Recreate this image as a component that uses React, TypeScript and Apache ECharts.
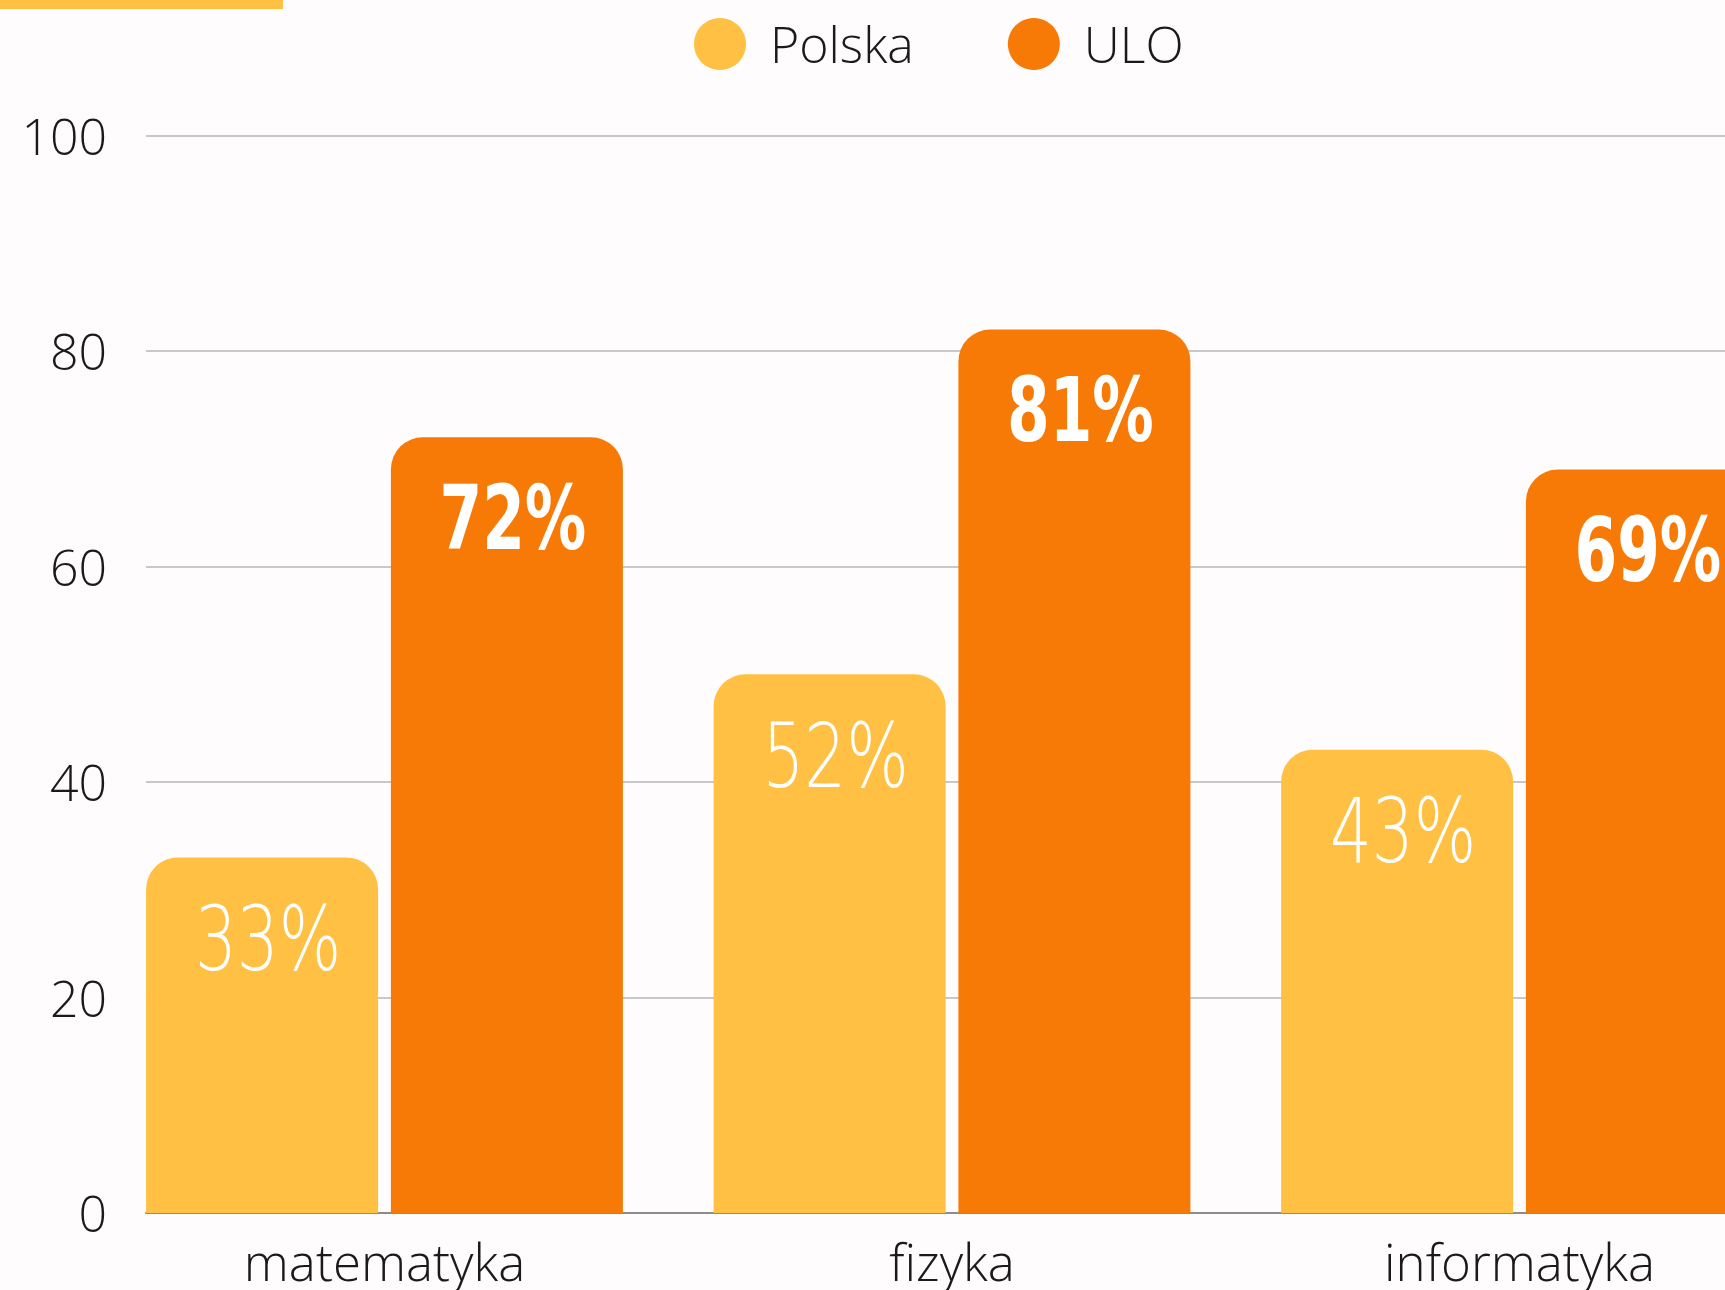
import React, { useEffect, useRef } from "react";
import * as echarts from "echarts";

const categories = ["matematyka", "fizyka", "informatyka"];
const seriesNames = ["Polska", "ULO"];
const polskaValues = [33, 50, 43];
const uloValues = [72, 82, 69];
const polskaLabels = ["33%", "52%", "43%"];
const uloLabels = ["72%", "81%", "69%"];
const yTicks = [0, 20, 40, 60, 80, 100];

const BG = "#fefcfc";
const YELLOW = "#ffc043";
const ORANGE = "#f77a06";

const PAGE_W = 1725;
const PAGE_H = 1290;
const CHART_W = 1810;
const BAR_W = 232;
const BAR_GAP_PX = 12.8;

export default function App() {
  const ref = useRef<HTMLDivElement>(null);
  useEffect(() => {
    document.body.style.margin = "0";
    document.body.style.background = BG;
    document.body.style.overflow = "hidden";
    document.documentElement.style.overflow = "hidden";
    const chart = echarts.init(ref.current!, null, { renderer: "svg" });
    const top = 135.5;
    const height = 1213 - 135.5;
    const bandW = 567.5;
    const gridLeft = 384.5 - bandW / 2;
    const barOffset = (BAR_W + BAR_GAP_PX) / 2;

    const makeLabelSeries = (
      name: string,
      values: number[],
      labels: string[],
      side: number,
      weight: number,
      family: string,
      scale: number
    ) => ({
      name,
      type: "custom",
      xAxisIndex: 1,
      yAxisIndex: 1,
      z: 5,
      silent: true,
      data: values.map((v, i) => [i, v]),
      renderItem: (params: any, api: any) => {
        const pt = api.coord([api.value(0), api.value(1)]);
        return {
          type: "text",
          x: pt[0] + side * barOffset + 6,
          y: pt[1] + 81,
          scaleX: scale,
          style: {
            text: labels[params.dataIndex],
            fill: "#ffffff",
            fontSize: 89,
            fontFamily: family,
            fontWeight: weight,
            align: "center",
            verticalAlign: "middle",
          },
        };
      },
    });

    const option: any = {
      animation: false,
      backgroundColor: BG,
      graphic: [
        { type: "rect", left: 0, top: 0, shape: { width: 283, height: 9 }, style: { fill: YELLOW } },
      ],
      legend: {
        left: 689,
        top: 13,
        icon: "circle",
        itemWidth: 52,
        itemHeight: 52,
        itemGap: 94,
        data: seriesNames,
        textStyle: {
          fontFamily: "Open Sans",
          fontWeight: 300,
          fontSize: 50,
          color: "#1a1a1a",
          padding: [0, 0, 0, 19],
        },
      },
      grid: [
        { left: 146, right: CHART_W - PAGE_W, top, height, containLabel: false },
        { left: gridLeft, right: CHART_W - gridLeft - bandW * 3, top, height, containLabel: false },
      ],
      xAxis: [
        {
          gridIndex: 0,
          type: "value",
          min: 0,
          max: 1,
          axisLine: { show: true, onZero: false, lineStyle: { color: "#8c8c8c", width: 2 } },
          axisTick: { show: false },
          axisLabel: { show: false },
          splitLine: { show: false },
        },
        {
          gridIndex: 1,
          type: "category",
          data: categories,
          axisLine: { show: false },
          axisTick: { show: false },
          splitLine: { show: false },
          axisLabel: {
            margin: 22,
            fontFamily: "Open Sans",
            fontWeight: 300,
            fontSize: 51,
            color: "#1a1a1a",
          },
        },
      ],
      yAxis: [
        {
          gridIndex: 0,
          type: "value",
          min: yTicks[0],
          max: yTicks[yTicks.length - 1],
          interval: 20,
          axisLine: { show: false },
          axisTick: { show: false },
          splitLine: { show: true, lineStyle: { color: "#c8c8c8", width: 2 } },
          axisLabel: {
            margin: 39,
            fontFamily: "Open Sans",
            fontWeight: 300,
            fontSize: 50,
            color: "#1a1a1a",
          },
        },
        {
          gridIndex: 1,
          type: "value",
          min: 0,
          max: 100,
          show: false,
        },
      ],
      series: [
        {
          name: seriesNames[0],
          type: "bar",
          xAxisIndex: 1,
          yAxisIndex: 1,
          data: polskaValues,
          barWidth: BAR_W,
          barGap: (BAR_GAP_PX / BAR_W) * 100 + "%",
          itemStyle: { color: YELLOW, borderRadius: [32, 32, 0, 0] },
        },
        {
          name: seriesNames[1],
          type: "bar",
          xAxisIndex: 1,
          yAxisIndex: 1,
          data: uloValues,
          barWidth: BAR_W,
          barGap: (BAR_GAP_PX / BAR_W) * 100 + "%",
          itemStyle: { color: ORANGE, borderRadius: [32, 32, 0, 0] },
        },
        makeLabelSeries("polskaLabels", polskaValues, polskaLabels, -1, 200, "DejaVu Sans", 0.74),
        makeLabelSeries("uloLabels", uloValues, uloLabels, 1, 700, "DejaVu Sans", 0.69),
      ],
    };
    chart.setOption(option);
    return () => chart.dispose();
  }, []);
  return <div ref={ref} style={{ width: CHART_W, height: PAGE_H }} />;
}
